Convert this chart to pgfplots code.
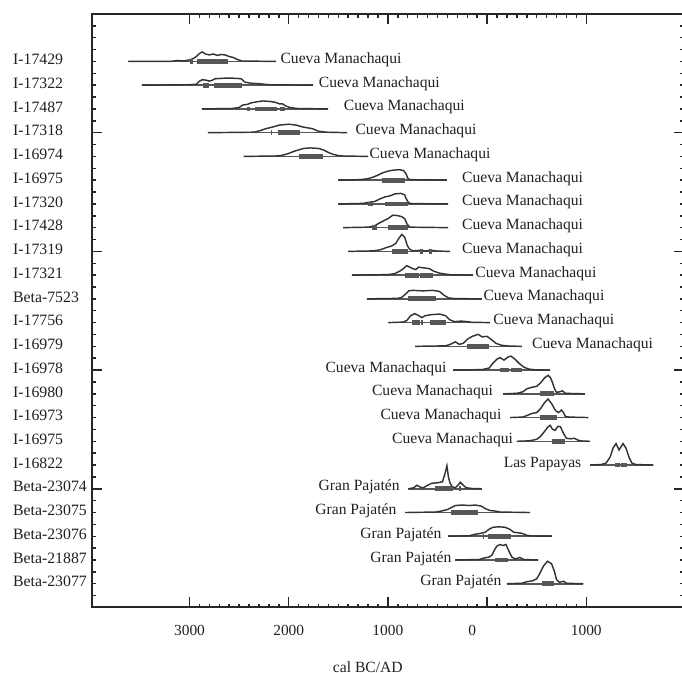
\documentclass[border=0pt]{standalone}
\usepackage{pgfplots}
\pgfplotsset{compat=1.18}
\usepackage{fontspec}
\setmainfont{Liberation Serif}
\definecolor{txt}{HTML}{202020}
\pgfplotsset{
  dbase/.style={draw=black!66, line width=0.8pt, mark=none, forget plot},
  dcurve/.style={draw=black!80, line width=0.72pt, mark=none, forget plot},
  dbar/.style={draw=black!66, line width=2.4pt, mark=none, forget plot},
}
\tikzset{lab/.style={inner sep=0pt, font=\fontsize{7.8}{9}\selectfont, text=txt}}
\begin{document}
\begin{tikzpicture}
\begin{axis}[
  at={(0,0)}, anchor=south west, scale only axis,
  width=296pt, height=296.75pt,
  xmin=-3983, xmax=1985, ymin=0, ymax=25,
  xtick={-3000,-2000,-1000,0,1000},
  xticklabels={3000,2000,1000,{\makebox[0pt][r]{0\hspace{5.5pt}}},1000},
  minor x tick num=9,
  ytick={0,5,10,15,20,25}, yticklabels={},
  minor y tick num=9,
  extra y ticks={1,2,3,4,5,6,7,8,9,10,11,12,13,14,15,16,17,18,19,20,21,22,23},
  extra y tick labels={Beta-23077,Beta-21887,Beta-23076,Beta-23075,Beta-23074,I-16822,I-16975,I-16973,I-16980,I-16978,I-16979,I-17756,Beta-7523,I-17321,I-17319,I-17428,I-17320,I-16975,I-16974,I-17318,I-17487,I-17322,I-17429},
  extra y tick style={major tick length=0pt, yticklabel style={anchor=west, inner sep=0pt, xshift=-39.65pt, yshift=1pt, font=\fontsize{7.9}{9}\selectfont}},
  tick align=inside,
  major tick length=5pt, minor tick length=1.8pt,
  every tick/.style={black!85, line width=0.75pt},
  axis line style={line width=1pt, black!85},
  tick label style={font=\fontsize{7.7}{9}\selectfont, text=txt},
  xticklabel style={yshift=-5.5pt},
  /pgf/number format/assume math mode=true,
  xlabel={cal BC/AD},
  xlabel style={at={(axis description cs:0.466,0)}, anchor=center, yshift=-29.75pt, font=\fontsize{7.8}{9}\selectfont, text=txt},
  clip=false,
]
% Row 1 I-17429
\addplot[dbase] coordinates {(-3617,23) (-2126,23)};
\addplot[dcurve] table[x=t, y expr=23+\thisrow{h}/23.74] {
t h
-3617 0
-3200 0
-3120 1
-3060 0.5
-3000 1.5
-2960 3
-2930 5
-2900 8
-2870 9.5
-2840 7.5
-2800 6.5
-2760 7.5
-2720 6
-2680 7
-2640 6.5
-2600 5
-2560 4
-2520 2
-2470 0.5
-2126 0
};
\addplot[dbar] coordinates {(-2990,23) (-2965,23)};
\addplot[dbar] coordinates {(-2920,23) (-2610,23)};
% Row 2 I-17322
\addplot[dbase] coordinates {(-3479,22) (-1753,22)};
\addplot[dcurve] table[x=t, y expr=22+\thisrow{h}/23.74] {
t h
-3479 0
-3000 0.5
-2930 1
-2900 4
-2870 5.5
-2830 5
-2800 4
-2770 5
-2740 6.5
-2650 7
-2560 7
-2480 6.5
-2440 3
-2380 2
-2300 1.5
-2200 0.5
-1753 0
};
\addplot[dbar] coordinates {(-2860,22) (-2800,22)};
\addplot[dbar] coordinates {(-2750,22) (-2470,22)};
% Row 3 I-17487
\addplot[dbase] coordinates {(-2875,21) (-1602,21)};
\addplot[dcurve] table[x=t, y expr=21+\thisrow{h}/23.74] {
t h
-2875 0
-2560 0.5
-2500 1.5
-2460 4
-2420 4.5
-2380 6
-2330 7
-2260 8
-2190 7.5
-2130 6.5
-2090 5
-2060 5
-2030 3
-1990 1.5
-1920 0.5
-1602 0
};
\addplot[dbar] coordinates {(-2420,21) (-2395,21)};
\addplot[dbar] coordinates {(-2340,21) (-2120,21)};
\addplot[dbar] coordinates {(-2090,21) (-2040,21)};
% Row 4 I-17318
\addplot[dbase] coordinates {(-2814,20) (-1411,20)};
\addplot[dcurve] table[x=t, y expr=20+\thisrow{h}/23.74] {
t h
-2814 0
-2350 0.5
-2290 2
-2230 4
-2190 5
-2150 6
-2100 7.5
-2000 8.5
-1920 7.5
-1870 6
-1820 5
-1760 4
-1700 1.5
-1620 0.5
-1411 0
};
\addplot[dbar] coordinates {(-2180,20) (-2165,20)};
\addplot[dbar] coordinates {(-2110,20) (-1890,20)};
% Row 5 I-16974
\addplot[dbase] coordinates {(-2455,19) (-1199,19)};
\addplot[dcurve] table[x=t, y expr=19+\thisrow{h}/23.74] {
t h
-2455 0
-2100 0.5
-2050 1.5
-2000 3
-1950 5
-1900 6.5
-1850 8
-1780 8.5
-1700 8
-1650 6.5
-1600 4
-1550 2
-1480 0.5
-1199 0
};
\addplot[dbar] coordinates {(-1900,19) (-1650,19)};
% Row 6 I-16975
\addplot[dbase] coordinates {(-1498,18) (-406,18)};
\addplot[dcurve] table[x=t, y expr=18+\thisrow{h}/23.74] {
t h
-1498 0
-1280 0.5
-1200 1.5
-1150 3
-1100 5
-1060 7
-1000 9
-950 10
-880 10.5
-840 9.5
-815 6
-800 2
-780 0.5
-406 0
};
\addplot[dbar] coordinates {(-1060,18) (-830,18)};
% Row 7 I-17320
\addplot[dbase] coordinates {(-1498,17) (-393,17)};
\addplot[dcurve] table[x=t, y expr=17+\thisrow{h}/23.74] {
t h
-1498 0
-1250 0.5
-1200 1.5
-1130 2.5
-1080 5
-1030 7
-980 8
-930 10
-870 10.5
-830 9
-815 5
-790 1
-760 0.3
-393 0
};
\addplot[dbar] coordinates {(-1200,17) (-1150,17)};
\addplot[dbar] coordinates {(-1030,17) (-800,17)};
% Row 8 I-17428
\addplot[dbase] coordinates {(-1451,16) (-393,16)};
\addplot[dcurve] table[x=t, y expr=16+\thisrow{h}/23.74] {
t h
-1451 0
-1200 0.5
-1140 1.5
-1080 5
-1040 7
-1000 9
-950 12.5
-900 12
-860 11
-830 9
-810 4
-780 0.5
-393 0
};
\addplot[dbar] coordinates {(-1160,16) (-1110,16)};
\addplot[dbar] coordinates {(-1000,16) (-800,16)};
% Row 9 I-17319
\addplot[dbase] coordinates {(-1398,15) (-373,15)};
\addplot[dcurve] table[x=t, y expr=15+\thisrow{h}/23.74] {
t h
-1398 0
-1150 0.5
-1080 1.5
-1010 4
-960 5.5
-920 8
-890 13
-860 17
-830 14
-805 6
-780 2
-750 0.5
-680 1
-620 0.5
-560 1
-500 0.3
-373 0
};
\addplot[dbar] coordinates {(-960,15) (-800,15)};
\addplot[dbar] coordinates {(-675,15) (-650,15)};
\addplot[dbar] coordinates {(-590,15) (-555,15)};
% Row 10 I-17321
\addplot[dbase] coordinates {(-1363,14) (-141,14)};
\addplot[dcurve] table[x=t, y expr=14+\thisrow{h}/23.74] {
t h
-1363 0
-1000 0.5
-930 1.5
-880 4
-850 6
-810 9.5
-760 7
-720 5.5
-690 8
-660 7.5
-620 7
-580 6.5
-540 4
-480 2
-420 1
-360 0.3
-141 0
};
\addplot[dbar] coordinates {(-830,14) (-690,14)};
\addplot[dbar] coordinates {(-680,14) (-545,14)};
% Row 11 Beta-7523
\addplot[dbase] coordinates {(-1212,13) (-53,13)};
\addplot[dcurve] table[x=t, y expr=13+\thisrow{h}/23.74] {
t h
-1212 0
-900 0.5
-860 1.5
-820 5
-790 8
-750 8.5
-650 8
-550 8.5
-480 7.5
-440 4
-390 1
-330 0.3
-53 0
};
\addplot[dbar] coordinates {(-800,13) (-520,13)};
% Row 12 I-17756
\addplot[dbase] coordinates {(-994,12) (30,12)};
\addplot[dcurve] table[x=t, y expr=12+\thisrow{h}/23.74] {
t h
-994 0
-850 0.5
-810 2
-770 7
-730 9
-690 7
-660 5
-620 7
-560 8
-480 8.5
-420 7
-380 3
-330 1
-260 1.5
-200 1
-150 0.3
30 0
};
\addplot[dbar] coordinates {(-760,12) (-680,12)};
\addplot[dbar] coordinates {(-665,12) (-645,12)};
\addplot[dbar] coordinates {(-580,12) (-410,12)};
% Row 13 I-16979
\addplot[dbase] coordinates {(-725,11) (350,11)};
\addplot[dcurve] table[x=t, y expr=11+\thisrow{h}/23.74] {
t h
-725 0
-420 0.5
-370 2
-320 4.5
-280 2
-240 3
-200 7
-150 10
-90 12
-50 9.5
0 10
40 7
90 3
150 1
220 0.3
350 0
};
\addplot[dbar] coordinates {(-200,11) (20,11)};
% Row 14 I-16978
\addplot[dbase] coordinates {(-340,10) (635,10)};
\addplot[dcurve] table[x=t, y expr=10+\thisrow{h}/23.74] {
t h
-340 0
-50 0.5
20 2
60 7
100 11
130 12.5
170 10
210 13
240 14
280 11
320 7
370 3
420 1
480 0.3
635 0
};
\addplot[dbar] coordinates {(130,10) (220,10)};
\addplot[dbar] coordinates {(240,10) (350,10)};
% Row 15 I-16980
\addplot[dbase] coordinates {(164,9) (987,9)};
\addplot[dcurve] table[x=t, y expr=9+\thisrow{h}/23.74] {
t h
164 0
300 0.5
360 2
400 5
450 6.5
500 7.5
540 11
580 16
615 18.5
640 16
660 11
680 5
700 1.5
730 2
760 3
790 0.5
987 0
};
\addplot[dbar] coordinates {(530,9) (670,9)};
% Row 16 I-16973
\addplot[dbase] coordinates {(232,8) (1021,8)};
\addplot[dcurve] table[x=t, y expr=8+\thisrow{h}/23.74] {
t h
232 0
360 0.5
400 2
450 4
500 5
540 9
580 15
615 18.5
650 14
690 7
720 5
750 7.5
770 5
790 1
830 0.5
1021 0
};
\addplot[dbar] coordinates {(530,8) (700,8)};
% Row 17 I-16975
\addplot[dbase] coordinates {(299,7) (1038,7)};
\addplot[dcurve] table[x=t, y expr=7+\thisrow{h}/23.74] {
t h
299 0
430 0.5
500 2
540 5
580 10
610 14
635 16
660 12
685 11
715 15
740 14.5
770 8
800 3
840 2.5
880 3
920 1
960 0.3
1038 0
};
\addplot[dbar] coordinates {(650,7) (790,7)};
% Row 18 I-16822
\addplot[dbase] coordinates {(1038,6) (1676,6)};
\addplot[dcurve] table[x=t, y expr=6+\thisrow{h}/23.74] {
t h
1038 0
1150 0.5
1200 2
1240 8
1270 17
1300 21.5
1330 15
1370 21.5
1400 17
1430 8
1460 2
1500 0.5
1676 0
};
\addplot[dbar] coordinates {(1290,6) (1335,6)};
\addplot[dbar] coordinates {(1345,6) (1410,6)};
% Row 19 Beta-23074
\addplot[dbase] coordinates {(-793,5) (-53,5)};
\addplot[dcurve] table[x=t, y expr=5+\thisrow{h}/23.74] {
t h
-793 0
-740 1
-708 3.5
-670 1.5
-640 1
-610 3
-560 5.5
-500 6
-450 7
-425 15
-405 23
-390 12
-375 6
-350 2
-320 1
-290 4
-270 6.5
-245 4
-210 1
-150 0.3
-53 0
};
\addplot[dbar] coordinates {(-530,5) (-345,5)};
\addplot[dbar] coordinates {(-280,5) (-265,5)};
% Row 20 Beta-23075
\addplot[dbase] coordinates {(-826,4) (433,4)};
\addplot[dcurve] table[x=t, y expr=4+\thisrow{h}/23.74] {
t h
-826 0
-520 0.5
-460 1.5
-400 3
-360 5
-320 7
-250 7.5
-180 7
-120 7.5
-60 6.5
-20 4
30 2
80 1.5
130 0.5
433 0
};
\addplot[dbar] coordinates {(-360,4) (-90,4)};
% Row 21 Beta-23076
\addplot[dbase] coordinates {(-390,3) (652,3)};
\addplot[dcurve] table[x=t, y expr=3+\thisrow{h}/23.74] {
t h
-390 0
-180 0.5
-120 2
-60 3
-20 4
20 7
60 9
120 9.5
180 9
230 7
270 4
310 3.5
350 3
400 1
450 0.3
652 0
};
\addplot[dbar] coordinates {(-45,3) (-30,3)};
\addplot[dbar] coordinates {(10,3) (240,3)};
% Row 22 Beta-21887
\addplot[dbase] coordinates {(-322,2) (517,2)};
\addplot[dcurve] table[x=t, y expr=2+\thisrow{h}/23.74] {
t h
-322 0
-80 0.5
-30 2
20 3
50 5
80 11
100 14
130 15.5
160 14.5
190 15.5
215 10
250 3
280 1
330 2.5
370 0.5
517 0
};
\addplot[dbar] coordinates {(80,2) (210,2)};
% Row 23 Beta-23077
\addplot[dbase] coordinates {(199,1) (970,1)};
\addplot[dcurve] table[x=t, y expr=1+\thisrow{h}/23.74] {
t h
199 0
350 0.5
400 2
460 3
500 5
530 10
570 18
610 22.5
650 20
680 12
700 4
730 1.5
770 2.5
800 0.5
970 0
};
\addplot[dbar] coordinates {(550,1) (670,1)};
% site labels
\node[lab, anchor=base west, yshift=-1pt] at (axis cs:-2086,23) {Cueva Manachaqui};
\node[lab, anchor=base west, yshift=-1pt] at (axis cs:-1700,22) {Cueva Manachaqui};
\node[lab, anchor=base west, yshift=-1pt] at (axis cs:-1448,21) {Cueva Manachaqui};
\node[lab, anchor=base west, yshift=-1pt] at (axis cs:-1330,20) {Cueva Manachaqui};
\node[lab, anchor=base west, yshift=-1pt] at (axis cs:-1189,19) {Cueva Manachaqui};
\node[lab, anchor=base west, yshift=-1pt] at (axis cs:-255,18) {Cueva Manachaqui};
\node[lab, anchor=base west, yshift=-1pt] at (axis cs:-255,17) {Cueva Manachaqui};
\node[lab, anchor=base west, yshift=-1pt] at (axis cs:-255,16) {Cueva Manachaqui};
\node[lab, anchor=base west, yshift=-1pt] at (axis cs:-255,15) {Cueva Manachaqui};
\node[lab, anchor=base west, yshift=-1pt] at (axis cs:-121,14) {Cueva Manachaqui};
\node[lab, anchor=base west, yshift=-1pt] at (axis cs:-40,13) {Cueva Manachaqui};
\node[lab, anchor=base west, yshift=-1pt] at (axis cs:60,12) {Cueva Manachaqui};
\node[lab, anchor=base west, yshift=-1pt] at (axis cs:450,11) {Cueva Manachaqui};
\node[lab, anchor=base east, yshift=-1pt] at (axis cs:-406,10) {Cueva Manachaqui};
\node[lab, anchor=base east, yshift=-1pt] at (axis cs:63,9) {Cueva Manachaqui};
\node[lab, anchor=base east, yshift=-1pt] at (axis cs:148,8) {Cueva Manachaqui};
\node[lab, anchor=base east, yshift=-1pt] at (axis cs:265,7) {Cueva Manachaqui};
\node[lab, anchor=base east, yshift=-1pt] at (axis cs:954,6) {Las Papayas};
\node[lab, anchor=base east, yshift=-1pt] at (axis cs:-877,5) {Gran Pajatén};
\node[lab, anchor=base east, yshift=-1pt] at (axis cs:-910,4) {Gran Pajatén};
\node[lab, anchor=base east, yshift=-1pt] at (axis cs:-456,3) {Gran Pajatén};
\node[lab, anchor=base east, yshift=-1pt] at (axis cs:-356,2) {Gran Pajatén};
\node[lab, anchor=base east, yshift=-1pt] at (axis cs:148,1) {Gran Pajatén};
\end{axis}
\pgfresetboundingbox
\path[use as bounding box] (-46pt,-32.75pt) rectangle (295pt,303.75pt);
\end{tikzpicture}
\end{document}
